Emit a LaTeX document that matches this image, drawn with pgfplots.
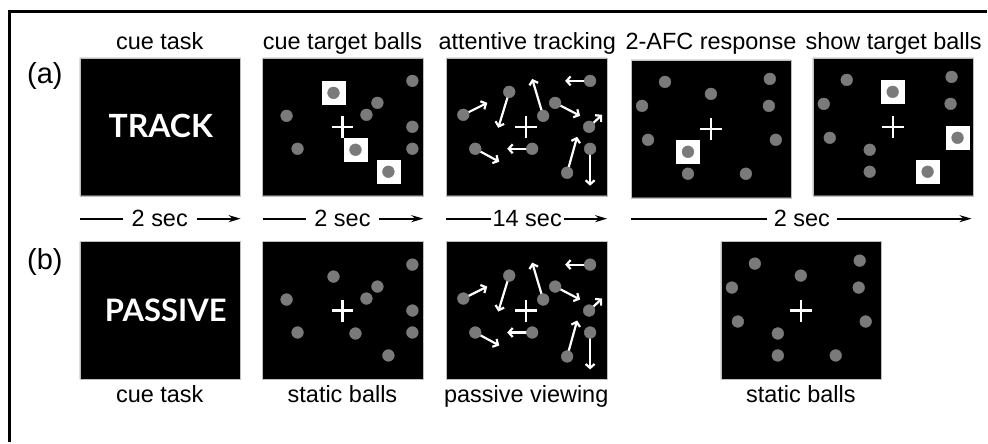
\documentclass[border=0pt]{standalone}
\usepackage{pgfplots}
\pgfplotsset{compat=1.18}
\usepackage{pgfplotstable}
\usetikzlibrary{arrows.meta}
\usepackage{fontspec}
\setmainfont{Liberation Sans}
\newfontfamily\cuefont{Lato}

\definecolor{ball}{RGB}{122,122,122}

% ball layouts, relative to the top left corner of a panel (pixels, y down)
\pgfplotstableread{
x y
71 35
24 58
115 45
104 57
150 23
150 69
150 91
35 91
93 92
126 114
}\staticballs

\pgfplotstableread{
x y
71 35
93 92
126 114
}\cuedballs

\pgfplotstableread{
x y u v
17 57 24 -12
63 34 -11 36
97 58 -11 -37
144 23 -25 0
109 45 25 13
143 69 13 -12
29 91 24 13
86 91 -25 0
121 115 10 -36
144 91 0 37
}\movingballs

\pgfplotstableread{
x y
34 22
80 34
139 19
11 46
138 46
17 80
57 92
145 80
57 114
115 114
}\endballs

\pgfplotstableread{
x y
80 34
145 80
115 114
}\shownballs

\begin{document}
\begin{tikzpicture}
\begin{axis}[
    width=988pt, height=443pt, scale only axis,
    xmin=0, xmax=988, ymin=0, ymax=443,
    y dir=reverse, hide axis, clip=false,
    ball/.style={only marks, mark=*, mark size=5.9pt, color=ball},
    sq/.style={only marks, mark=square*, mark size=11.5pt, color=white},
    arr/.style={white, line width=2.2pt, -{Straight Barb[length=4pt,width=9pt]},
        quiver={u=\thisrow{u}, v=\thisrow{v}}},
    time/.style={black, line width=2pt, -{Stealth[length=12pt,width=7pt]}},
]
\path (axis cs:0,0) rectangle (axis cs:988,443);

% frame
\addplot[black, line width=3pt] coordinates {(10,443) (10,12) (988,12)};

% panels
\addplot[fill=black, draw=gray!50] coordinates {(80,58) (241,58) (241,196) (80,196) (80,58)};
\addplot[fill=black, draw=gray!50] coordinates {(263,58) (424,58) (424,196) (263,196) (263,58)};
\addplot[fill=black, draw=gray!50] coordinates {(447,58) (608,58) (608,196) (447,196) (447,58)};
\addplot[fill=black, draw=gray!50] coordinates {(632,60) (792,60) (792,198) (632,198) (632,60)};
\addplot[fill=black, draw=gray!50] coordinates {(814,58) (975,58) (975,196) (814,196) (814,58)};
\addplot[fill=black, draw=gray!50] coordinates {(80,242) (241,242) (241,380) (80,380) (80,242)};
\addplot[fill=black, draw=gray!50] coordinates {(263,242) (424,242) (424,380) (263,380) (263,242)};
\addplot[fill=black, draw=gray!50] coordinates {(447,242) (608,242) (608,380) (447,380) (447,242)};
\addplot[fill=black, draw=gray!50] coordinates {(722,242) (883,242) (883,380) (722,380) (722,242)};

% white squares round the target balls
\addplot[sq] table[x expr=\thisrow{x}+263, y expr=\thisrow{y}+58] {\cuedballs};
\addplot[sq] coordinates {(689,152)};
\addplot[sq] table[x expr=\thisrow{x}+814, y expr=\thisrow{y}+58] {\shownballs};

% motion arrows
\addplot[arr] table[x expr=\thisrow{x}+447, y expr=\thisrow{y}+58] {\movingballs};
\addplot[arr] table[x expr=\thisrow{x}+447, y expr=\thisrow{y}+242] {\movingballs};

% balls
\addplot[ball] table[x expr=\thisrow{x}+263, y expr=\thisrow{y}+58] {\staticballs};
\addplot[ball] table[x expr=\thisrow{x}+447, y expr=\thisrow{y}+58] {\movingballs};
\addplot[ball] table[x expr=\thisrow{x}+632, y expr=\thisrow{y}+60] {\endballs};
\addplot[ball] table[x expr=\thisrow{x}+814, y expr=\thisrow{y}+58] {\endballs};
\addplot[ball] table[x expr=\thisrow{x}+263, y expr=\thisrow{y}+242] {\staticballs};
\addplot[ball] table[x expr=\thisrow{x}+447, y expr=\thisrow{y}+242] {\movingballs};
\addplot[ball] table[x expr=\thisrow{x}+722, y expr=\thisrow{y}+242] {\endballs};

% fixation crosses
\addplot[only marks, mark=+, mark size=11pt, white, mark options={line width=2.2pt}]
    coordinates {(343,127) (527,127) (712,129) (894,127) (343,311) (527,311) (802,311)};

% time line
\addplot[time] coordinates {(80,219) (241,219)};
\addplot[time] coordinates {(263,219) (424,219)};
\addplot[time] coordinates {(447,219) (608,219)};
\addplot[time] coordinates {(632,219) (973,219)};

\begin{scope}[every node/.style={anchor=base, inner sep=0pt, font=\fontsize{23.5}{23.5}\selectfont}]
\node at (axis cs:160,50) {cue task};
\node at (axis cs:343,50) {cue target balls};
\node at (axis cs:528,50) {attentive tracking};
\node at (axis cs:712,50) {2-AFC response};
\node at (axis cs:895,50) {show target balls};
\node[fill=white, inner xsep=9pt, inner ysep=3pt] at (axis cs:160,227) {2 sec};
\node[fill=white, inner xsep=8pt, inner ysep=3pt] at (axis cs:343,227) {2 sec};
\node[fill=white, inner xsep=2pt, inner ysep=3pt] at (axis cs:528,227) {14 sec};
\node[fill=white, inner xsep=7pt, inner ysep=3pt] at (axis cs:803,227) {2 sec};
\node at (axis cs:160,403) {cue task};
\node at (axis cs:343,403) {static balls};
\node at (axis cs:527,403) {passive viewing};
\node at (axis cs:802,403) {static balls};
\node[font=\fontsize{29}{29}\selectfont] at (axis cs:45,84) {(a)};
\node[font=\fontsize{29}{29}\selectfont] at (axis cs:45,270) {(b)};
\node[text=white, font=\cuefont\bfseries\fontsize{32}{32}\selectfont] at (axis cs:161,138) {TRACK};
\node[text=white, font=\cuefont\bfseries\fontsize{31}{31}\selectfont] at (axis cs:166,322) {PASSIVE};
\end{scope}
\end{axis}
\end{tikzpicture}
\end{document}
